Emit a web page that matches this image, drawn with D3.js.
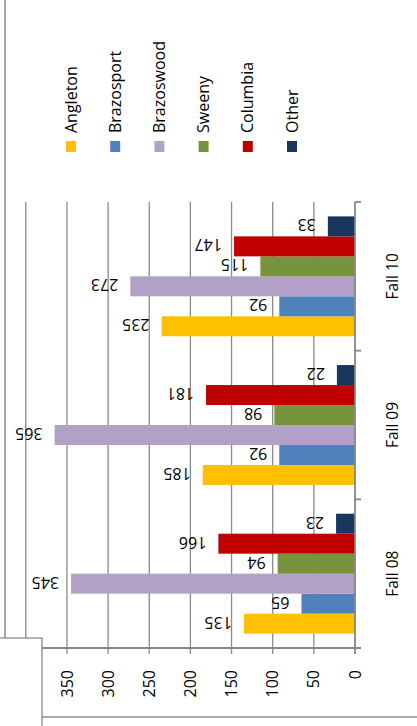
<!DOCTYPE html>
<html><head><meta charset="utf-8">
<script src="https://cdn.jsdelivr.net/npm/d3@7"></script>
<style>body{margin:0;background:#fff}svg{display:block;font-family:"Open Sans",sans-serif}</style>
</head><body>
<script>
const categories = ["Fall 08", "Fall 09", "Fall 10"];
const seriesNames = ["Angleton", "Brazosport", "Brazoswood", "Sweeny", "Columbia", "Other"];
const seriesColors = ["#FFC000", "#4F81BD", "#B2A1C7", "#77933C", "#C00000", "#17375E"];
const angleton   = [135, 185, 235];
const brazosport = [65, 92, 92];
const brazoswood = [345, 365, 273];
const sweeny     = [94, 98, 115];
const columbia   = [166, 181, 147];
const other      = [23, 22, 33];
const tickValues = [0, 50, 100, 150, 200, 250, 300, 350];

const seriesValues = [angleton, brazosport, brazoswood, sweeny, columbia, other];
const W = 417, H = 726;
const svg = d3.select("body").append("svg").attr("width", W).attr("height", H);

const x = d3.scaleLinear().domain([0, 400]).range([355, 25.8]);
const y = d3.scaleBand().domain(categories).range([648, 202]);
const pad = 14.4;
const yi = d3.scaleBand().domain(seriesNames).range([y.bandwidth() - pad, pad]);

const gridColor = "#8a8a8a";
// gridlines
svg.append("g").selectAll("line").data(d3.range(50, 401, 50)).join("line")
  .attr("x1", d => x(d)).attr("x2", d => x(d)).attr("y1", 202).attr("y2", 654)
  .attr("stroke", gridColor).attr("stroke-width", 1.3);

// bars
const data = [];
categories.forEach((c, ci) => seriesNames.forEach((s, si) => data.push({c, s, si, v: seriesValues[si][ci]})));
svg.append("g").selectAll("rect").data(data).join("rect")
  .attr("x", d => x(d.v)).attr("width", d => x(0) - x(d.v))
  .attr("y", d => y(d.c) + yi(d.s)).attr("height", yi.bandwidth())
  .attr("fill", d => seriesColors[d.si]);

// data labels
svg.append("g").selectAll("text").data(data).join("text")
  .attr("transform", d => `translate(${x(d.v) - 12},${y(d.c) + yi(d.s) + yi.bandwidth() / 2 - 1.5}) rotate(180)`)
  .attr("text-anchor", "start").attr("dy", "0.35em")
  .attr("font-size", 16).attr("fill", "#000").text(d => d.v);

// value axis
const axisColor = "#868686";
svg.append("line").attr("x1", 42).attr("x2", 361).attr("y1", 648).attr("y2", 648)
  .attr("stroke", axisColor).attr("stroke-width", 1.8);
svg.append("line").attr("x1", x(0)).attr("x2", x(0)).attr("y1", 202).attr("y2", 654)
  .attr("stroke", axisColor).attr("stroke-width", 1.8);
// category ticks
const catTicks = categories.map(c => y(c) + y.bandwidth()).concat([y(categories[categories.length - 1])]);
svg.append("g").selectAll("line").data(catTicks).join("line")
  .attr("x1", x(0)).attr("x2", 361).attr("y1", d => d).attr("y2", d => d)
  .attr("stroke", axisColor).attr("stroke-width", 1.8);

// value tick labels
svg.append("g").selectAll("text").data(tickValues).join("text")
  .attr("transform", d => `translate(${x(d)},670) rotate(-90)`)
  .attr("text-anchor", "end").attr("dy", "0.35em")
  .attr("font-size", 16).attr("fill", "#000").text(d => d);

// category labels
svg.append("g").selectAll("text").data(categories).join("text")
  .attr("transform", d => `translate(393,${y(d) + y.bandwidth() / 2}) rotate(-90)`)
  .attr("text-anchor", "middle").attr("dy", "0.35em")
  .attr("font-size", 15.5).attr("fill", "#000").text(d => d);

// legend
const lg = svg.append("g").selectAll("g").data(seriesNames).join("g")
  .attr("transform", (d, i) => `translate(${71 + i * 44.2},0)`);
lg.append("rect").attr("x", -5).attr("y", 141).attr("width", 10).attr("height", 11)
  .attr("fill", (d, i) => seriesColors[i]);
lg.append("text").attr("transform", "translate(0,133) rotate(-90)")
  .attr("text-anchor", "start").attr("dy", "0.35em")
  .attr("font-size", 16).attr("fill", "#000").text(d => d);

// frames
svg.append("line").attr("x1", 5).attr("x2", 5).attr("y1", 0).attr("y2", 638)
  .attr("stroke", "#8c8c8c").attr("stroke-width", 1.5);
svg.append("rect").attr("x", -2).attr("y", 638).attr("width", 44).attr("height", 100)
  .attr("fill", "#fff").attr("stroke", "#8c8c8c").attr("stroke-width", 1.3);
svg.append("line").attr("x1", 42).attr("x2", 417).attr("y1", 717).attr("y2", 717)
  .attr("stroke", "#8c8c8c").attr("stroke-width", 1.3);
</script>
</body></html>
